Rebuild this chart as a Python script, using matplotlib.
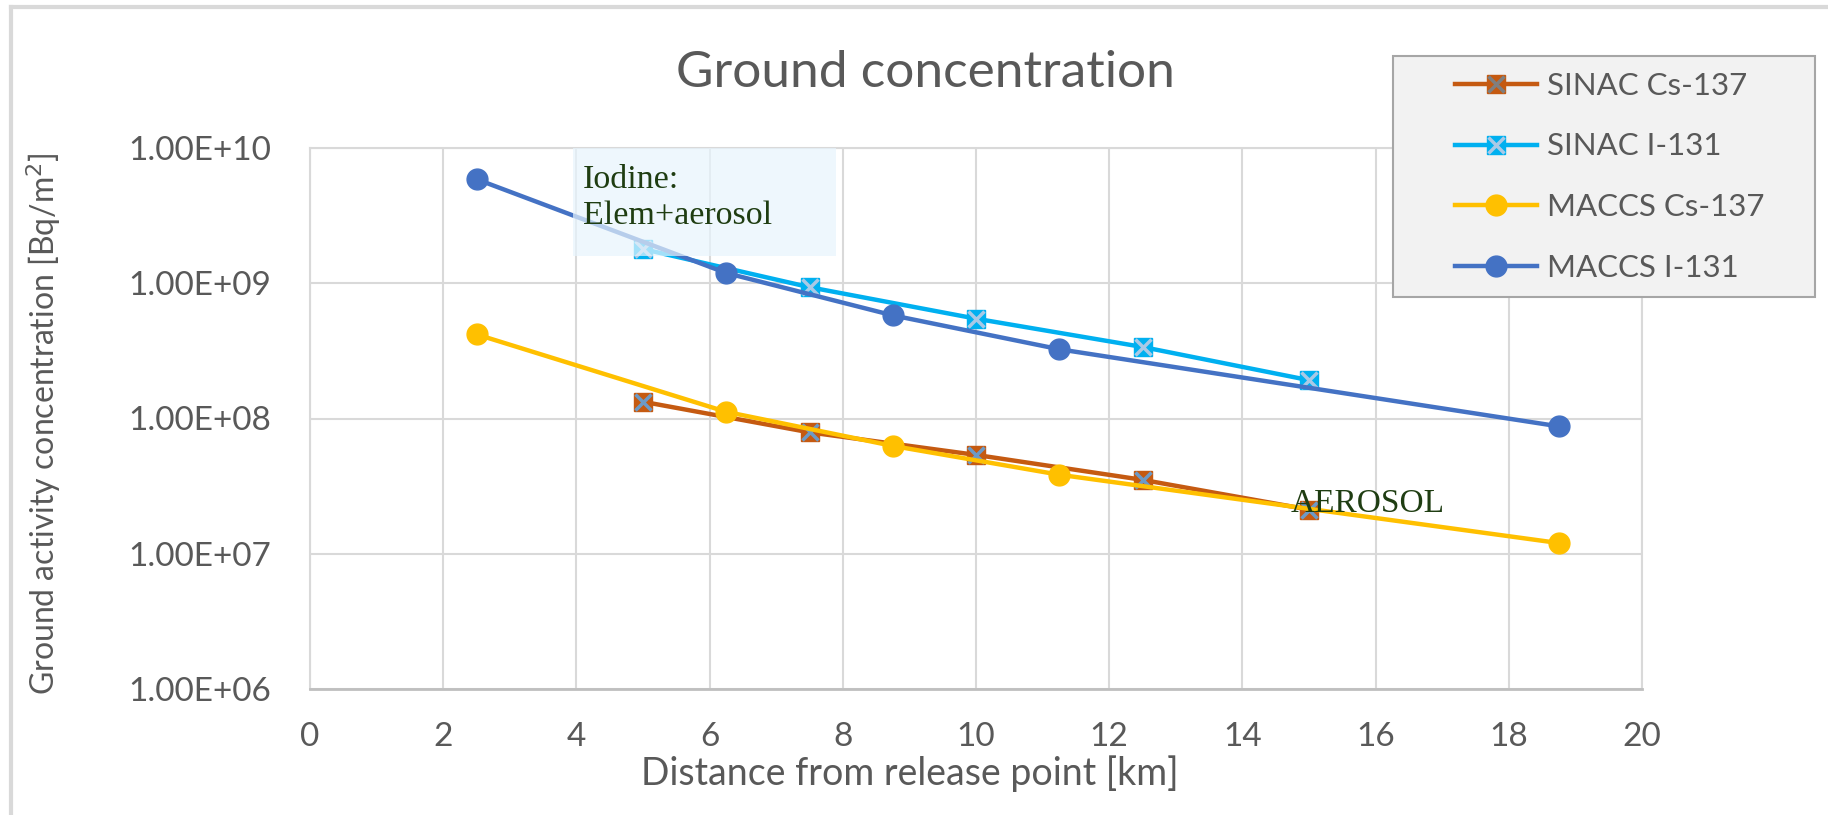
import matplotlib
matplotlib.use("Agg")
import matplotlib.pyplot as plt
from matplotlib.lines import Line2D
from matplotlib.patches import Rectangle
from matplotlib.legend_handler import HandlerTuple
from matplotlib.ticker import FuncFormatter, FixedLocator

plt.rcParams['font.family'] = ['Lato', 'DejaVu Sans']

# data
sinac_x = [5, 7.5, 10, 12.5, 15]
sinac_cs = [1.33e8, 7.9e7, 5.38e7, 3.52e7, 2.12e7]
sinac_i = [1.79e9, 9.35e8, 5.47e8, 3.38e8, 1.92e8]

maccs_x = [2.5, 6.25, 8.75, 11.25, 18.75]
maccs_cs = [4.19e8, 1.12e8, 6.27e7, 3.84e7, 1.2e7]
maccs_i = [5.88e9, 1.19e9, 5.79e8, 3.25e8, 8.75e7]

labels = ["SINAC Cs-137", "SINAC I-131", "MACCS Cs-137", "MACCS I-131"]
x_ticks = list(range(0, 21, 2))
y_ticks = [1e6, 1e7, 1e8, 1e9, 1e10]

c_cs = "#C55A11"
c_i = "#00B0F0"
c_mcs = "#FFC000"
c_mi = "#4472C4"
grid_c = "#D9D9D9"
text_c = "#595959"

W, H = 1828, 815
fig = plt.figure(figsize=(W / 100, H / 100), dpi=100)
ax = fig.add_axes([310 / W, 1 - 689 / H, (1642 - 310) / W, (689 - 148) / H])

lw = 3.2
ms_sq = 13.5
ms_c = 15

ax.plot(sinac_x, sinac_cs, color=c_cs, lw=lw, marker='s', ms=ms_sq, mec=c_cs, zorder=3)
ax.plot(sinac_x, sinac_cs, ls='none', marker='x', ms=ms_sq * 0.85, mew=2.5, color="#6C9AC6", zorder=3.1)
ax.plot(sinac_x, sinac_i, color=c_i, lw=lw, marker='s', ms=ms_sq, mec=c_i, zorder=4)
ax.plot(sinac_x, sinac_i, ls='none', marker='x', ms=ms_sq * 0.85, mew=2.5, color="#A9C9E6", zorder=4.1)
ax.plot(maccs_x, maccs_cs, color=c_mcs, lw=lw, marker='o', ms=ms_c, zorder=5)
ax.plot(maccs_x, maccs_i, color=c_mi, lw=lw, marker='o', ms=ms_c, zorder=6)

ax.set_yscale('log')
ax.set_xlim(0, 20)
ax.set_ylim(1e6, 1e10)
ax.xaxis.set_major_locator(FixedLocator(x_ticks))
ax.yaxis.set_major_locator(FixedLocator(y_ticks))
ax.yaxis.set_minor_locator(FixedLocator([]))
ax.yaxis.set_major_formatter(FuncFormatter(lambda v, p: "%.2E" % v))
ax.grid(True, color=grid_c, lw=1.5, zorder=0)
ax.set_axisbelow(True)
for s in ax.spines.values():
    s.set_color(grid_c)
    s.set_linewidth(1.5)
ax.spines['bottom'].set_color("#BFBFBF")
ax.spines['bottom'].set_linewidth(2)
ax.tick_params(length=0, labelsize=24, colors=text_c, pad=28)
ax.tick_params(axis='x', pad=24)

ax.set_xlabel("Distance from release point [km]", fontsize=27, color=text_c)
ax.xaxis.label.set_va('center')
ax.xaxis.set_label_coords(0.45, -0.157)
ax.set_ylabel("Ground activity concentration [Bq/m$^2$]", fontsize=23, color=text_c)
ax.yaxis.label.set_va('center')
ax.yaxis.set_label_coords(-0.2, 0.49)
fig.text(925 / W, 1 - 73 / H, "Ground concentration", fontsize=37, color=text_c,
         ha='center', va='center')

# annotation box
box = Rectangle((3.95, 1.6e9), 3.95, 8.4e9, facecolor="#E8F5FD", edgecolor='none',
                alpha=0.7, zorder=7)
ax.add_patch(box)
ax.text(4.1, 4.3e9, "Iodine:\nElem+aerosol", fontsize=24.5, family="Liberation Serif",
        color="#1F3D12", va='center', ha='left', linespacing=1.25, zorder=8)
ax.text(14.73, 2.34e7, "AEROSOL", fontsize=24, family="Liberation Serif",
        color="#1F3D12", va='center', ha='left', zorder=8)

# legend with its own frame
fig.patches.append(Rectangle((1393 / W, 1 - 297 / H), (1815 - 1393) / W, (297 - 56) / H,
                             transform=fig.transFigure, facecolor="#F2F2F2",
                             edgecolor="#A6A6A6", lw=1.5, zorder=1))
h1 = (Line2D([], [], color=c_cs, lw=lw, marker='s', ms=ms_sq),
      Line2D([], [], ls='none', marker='x', ms=ms_sq * 0.85, mew=2.5, color="#7F7F7F"))
h2 = (Line2D([], [], color=c_i, lw=lw, marker='s', ms=ms_sq),
      Line2D([], [], ls='none', marker='x', ms=ms_sq * 0.85, mew=2.5, color="#A9C9E6"))
h3 = Line2D([], [], color=c_mcs, lw=lw, marker='o', ms=ms_c)
h4 = Line2D([], [], color=c_mi, lw=lw, marker='o', ms=ms_c)
leg = fig.legend([h1, h2, h3, h4], labels, loc='upper left',
                 bbox_to_anchor=(1439 / W, 1 - 56 / H), frameon=False,
                 fontsize=22.5, labelcolor=text_c, handlelength=2.65, handletextpad=0.3,
                 labelspacing=1.05, borderpad=0,
                 handler_map={tuple: HandlerTuple(ndivide=1)})
leg.set_zorder(2)

# outer frame (top and left edges visible)
fig.add_artist(Line2D([11 / W, 11 / W], [0, 1 - 7 / H], color=grid_c, lw=3))
fig.add_artist(Line2D([11 / W, 1], [1 - 7 / H, 1 - 7 / H], color=grid_c, lw=3))

fig.savefig("out.png", dpi=100)
